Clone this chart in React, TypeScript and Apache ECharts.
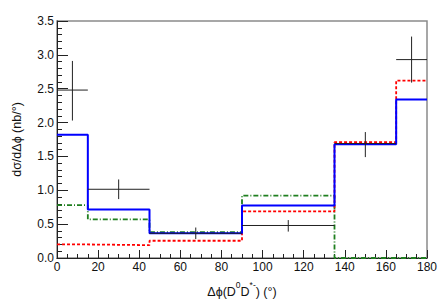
import React, { useEffect, useRef } from "react";
import * as echarts from "echarts";

const binEdges = [0, 15, 45, 90, 135, 165, 180];
const blueValues = [1.82, 0.715, 0.365, 0.775, 1.68, 2.34];
const redValues = [0.2, 0.19, 0.255, 0.69, 1.71, 2.62];
const greenValues = [0.78, 0.57, 0.38, 0.92, 0, 0];
// data points: x center, y, y low, y high
const dataX = [7.5, 30, 67.5, 112.5, 150, 172.5];
const dataY = [2.48, 1.015, 0.365, 0.48, 1.69, 2.93];
const dataYLow = [2.03, 0.87, 0.28, 0.39, 1.49, 2.59];
const dataYHigh = [2.91, 1.16, 0.45, 0.56, 1.86, 3.27];
const xTicks = [0, 20, 40, 60, 80, 100, 120, 140, 160, 180];
const yTicks = [0, 0.5, 1, 1.5, 2, 2.5, 3, 3.5];

function stepData(values: number[]) {
  const pts: number[][] = [];
  for (let i = 0; i < values.length; i++) pts.push([binEdges[i], values[i]]);
  pts.push([binEdges[binEdges.length - 1], values[values.length - 1]]);
  return pts;
}

export default function App() {
  const ref = useRef<HTMLDivElement>(null);
  useEffect(() => {
    if (!ref.current) return;
    const chart = echarts.init(ref.current, null, { renderer: "svg" });
    const font = "Liberation Sans";
    const errData = dataX.map((x, i) => [
      x,
      dataY[i],
      binEdges[i],
      binEdges[i + 1],
      dataYLow[i],
      dataYHigh[i],
    ]);
    chart.setOption({
      animation: false,
      backgroundColor: "#ffffff",
      grid: {
        left: 57,
        right: 18,
        top: 21,
        bottom: 40,
        show: true,
        borderColor: "#8a8a8a",
        borderWidth: 1.5,
      },
      xAxis: {
        type: "value",
        min: xTicks[0],
        max: xTicks[xTicks.length - 1],
        interval: 20,
        name: "{a|Δϕ(D}{s|0}{a|D}{s|*-}{a|) (°)}",
        nameLocation: "middle",
        nameGap: 22,
        nameTextStyle: {
          rich: {
            a: { fontFamily: font, fontSize: 12.5, color: "#111", lineHeight: 18, verticalAlign: "bottom" },
            s: { fontFamily: font, fontSize: 8.5, color: "#111", lineHeight: 18, verticalAlign: "top" },
          },
        },
        axisLine: { show: true, lineStyle: { color: "#222", width: 1 } },
        axisTick: { show: true, inside: true, length: 8, lineStyle: { color: "#222" } },
        minorTick: { show: true, splitNumber: 4, length: 4, lineStyle: { color: "#222" } },
        splitLine: { show: false },
        axisLabel: {
          fontFamily: font,
          fontSize: 12,
          color: "#111",
          margin: 3,
        },
      },
      yAxis: {
        type: "value",
        min: yTicks[0],
        max: yTicks[yTicks.length - 1],
        interval: 0.5,
        name: "dσ/dΔϕ (nb/°)",
        nameLocation: "middle",
        nameGap: 34,
        nameTextStyle: { fontFamily: font, fontSize: 12.5, color: "#111" },
        axisLine: { show: true, lineStyle: { color: "#222", width: 1 } },
        axisTick: { show: true, inside: true, length: 11, lineStyle: { color: "#222" } },
        minorTick: { show: true, splitNumber: 5, length: 5, lineStyle: { color: "#222" } },
        splitLine: { show: false },
        axisLabel: {
          fontFamily: font,
          fontSize: 12,
          color: "#111",
          margin: 3,
          formatter: (v: number) => v.toFixed(1),
        },
      },
      series: [
        {
          type: "line",
          step: "end",
          data: stepData(greenValues),
          symbol: "none",
          lineStyle: { color: "#1f7f1f", width: 1.8, type: [5, 2, 1, 2] },
          z: 2,
        },
        {
          type: "line",
          step: "end",
          data: stepData(redValues),
          symbol: "none",
          lineStyle: { color: "#ff0000", width: 1.8, type: [3, 2] },
          z: 3,
        },
        {
          type: "line",
          step: "end",
          data: stepData(blueValues),
          symbol: "none",
          lineStyle: { color: "#0000ff", width: 2 },
          z: 4,
        },
        {
          type: "custom",
          data: errData,
          z: 5,
          renderItem: (params: any, api: any) => {
            const c = api.coord([api.value(0), api.value(1)]);
            const l = api.coord([api.value(2), api.value(1)]);
            const r = api.coord([api.value(3), api.value(1)]);
            const lo = api.coord([api.value(0), api.value(4)]);
            const hi = api.coord([api.value(0), api.value(5)]);
            const style = { stroke: "#222", lineWidth: 1 };
            return {
              type: "group",
              children: [
                { type: "line", shape: { x1: l[0], y1: c[1], x2: r[0], y2: c[1] }, style },
                { type: "line", shape: { x1: c[0], y1: lo[1], x2: c[0], y2: hi[1] }, style },
              ],
            };
          },
        },
      ],
    });
    return () => chart.dispose();
  }, []);
  return <div ref={ref} style={{ width: 445, height: 303, position: "absolute", left: 0, top: 0 }} />;
}
